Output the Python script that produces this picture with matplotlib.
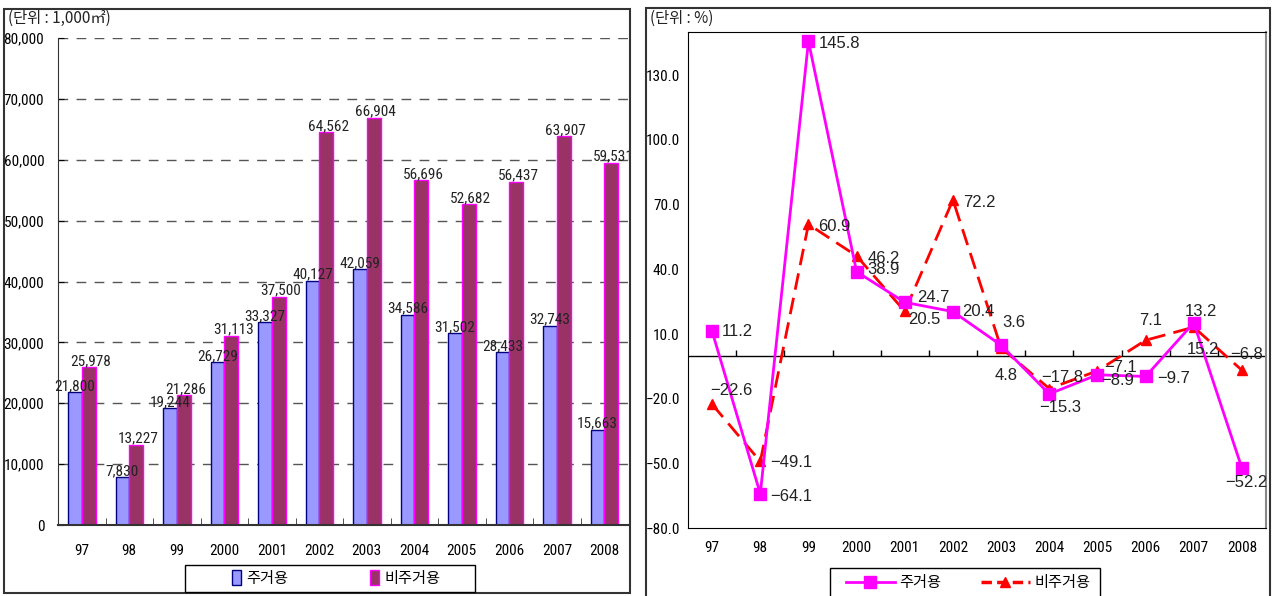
import numpy as np
import matplotlib
matplotlib.use('Agg')
import matplotlib.pyplot as plt
from matplotlib.patches import Rectangle
from matplotlib.lines import Line2D

plt.rcParams['font.family'] = ['Noto Sans CJK KR', 'DejaVu Sans']
plt.rcParams['axes.unicode_minus'] = True

# ---- 데이터 ----
years = ['97', '98', '99', '2000', '2001', '2002', '2003', '2004', '2005', '2006', '2007', '2008']

# 연면적 (단위: 1,000㎡)
area_res = [21800, 7830, 19244, 26729, 33327, 40127, 42059, 34586, 31502, 28433, 32743, 15663]
area_nonres = [25978, 13227, 21286, 31113, 37500, 64562, 66904, 56696, 52682, 56437, 63907, 59531]

# 증감률 (단위: %)
rate_res = [11.2, -64.1, 145.8, 38.9, 24.7, 20.4, 4.8, -17.8, -8.9, -9.7, 15.2, -52.2]
rate_nonres = [-22.6, -49.1, 60.9, 46.2, 20.5, 72.2, 3.6, -15.3, -7.1, 7.1, 13.2, -6.8]

# 라벨 위치 (픽셀 오프셋)
off_res = [(10, 0), (10, -3), (10, -2), (11, 2), (12, 5), (9, 0),
           (-6, -30), (-8, 16), (4, -6), (12, -2), (-7, -27), (-17, -14)]
off_nonres = [(-2, 14), (10, -1), (10, -2), (11, -3), (3, -8), (10, -3),
              (1, 25), (-10, -19), (7, 3), (-6, 20), (-9, 16), (-12, 16)]

narrow = ['Roboto Condensed', 'Noto Sans CJK KR']
helv = ['Liberation Sans', 'DejaVu Sans']

fig = plt.figure(figsize=(12.73, 5.96), dpi=100)

# 패널 테두리
fig.patches.append(Rectangle((0.0031, 0.005), 0.4918, 0.98, transform=fig.transFigure,
                             fill=False, edgecolor='#333333', lw=1.5))
fig.patches.append(Rectangle((0.5075, -0.01), 0.4905, 0.9966, transform=fig.transFigure,
                             fill=False, edgecolor='#333333', lw=1.5))

x = np.arange(len(years))

# ================= 왼쪽: 연면적 막대 =================
ax1 = fig.add_axes([0.0456, 0.1191, 0.4478, 0.817])
w = 0.29
b1 = ax1.bar(x - w / 2, area_res, w, color='#9999FF', edgecolor='#000080', lw=1, label='주거용')
b2 = ax1.bar(x + w / 2, area_nonres, w, color='#993366', edgecolor='#FF00FF', lw=1, label='비주거용')

for i in range(len(years)):
    ax1.annotate(f'{area_res[i]:,}', (x[i] - w / 2, area_res[i]), xytext=(0, -1),
                 textcoords='offset pixels', ha='center', va='bottom',
                 fontsize=11, family=narrow, color='#222222')
    ax1.annotate(f'{area_nonres[i]:,}', (x[i] + w / 2, area_nonres[i]), xytext=(2, -1),
                 textcoords='offset pixels', ha='center', va='bottom',
                 fontsize=11, family=narrow, color='#222222')

ax1.set_xlim(-0.5, len(years) - 0.5)
ax1.set_ylim(0, 80000)
ax1.set_yticks(range(0, 80001, 10000))
ax1.set_yticklabels([f'{v:,}' for v in range(0, 80001, 10000)], family=narrow, fontsize=11)
ax1.set_xticks(x)
ax1.set_xticklabels(years, family=narrow, fontsize=11)
ax1.tick_params(axis='x', length=0, pad=14)
ax1.set_xticks(np.arange(0.5, len(years) - 0.5), minor=True)
ax1.tick_params(axis='x', which='minor', length=5, direction='in', color='#333333')
ax1.tick_params(axis='y', length=4, direction='in', pad=10)
for v in range(10000, 80001, 10000):
    ax1.axhline(v, color='#555555', lw=1, ls=(0, (7, 6)), zorder=0)
ax1.spines['top'].set_visible(False)
ax1.spines['right'].set_visible(False)
ax1.spines['left'].set_color('#333333')
ax1.spines['bottom'].set_color('#333333')
ax1.spines['bottom'].set_linewidth(1.5)

fig.text(0.0065, 0.969, '(단위 : 1,000㎡)', fontsize=11, va='center', color='#222222')

# 범례 (테두리는 따로 그림)
fig.patches.append(Rectangle((185 / 1273, 1 - 592 / 596), 290 / 1273, 27 / 596,
                             transform=fig.transFigure, fill=True, facecolor='white',
                             edgecolor='black', lw=1, zorder=5))
fig.legend(handles=[b1, b2], loc='center', bbox_to_anchor=(336 / 1273, 1 - 578 / 596),
           ncol=2, frameon=False, handlelength=0.6, handleheight=1.2, handletextpad=0.3,
           columnspacing=5.4, fontsize=11, borderpad=0.2).set_zorder(6)

# ================= 오른쪽: 증감률 꺾은선 =================
ax2 = fig.add_axes([0.5405, 0.114, 0.454, 0.832])
ax2.plot(x, rate_res, color='#FF00FF', lw=2, marker='s', ms=8, label='주거용', zorder=4)
ax2.plot(x, rate_nonres, color='#FF0000', lw=2, ls=(0, (6, 3)), marker='^', ms=7,
         label='비주거용', zorder=3)

for i in range(len(years)):
    ax2.annotate(f'{rate_res[i]:.1f}'.replace('-', '\u2212'), (x[i], rate_res[i]),
                 xytext=off_res[i], textcoords='offset pixels', ha='left', va='center',
                 fontsize=12, family=helv, color='#222222', zorder=5)
    ax2.annotate(f'{rate_nonres[i]:.1f}'.replace('-', '\u2212'), (x[i], rate_nonres[i]),
                 xytext=off_nonres[i], textcoords='offset pixels', ha='left', va='center',
                 fontsize=12, family=helv, color='#222222', zorder=5)

ax2.set_xlim(-0.5, len(years) - 0.5)
ax2.set_ylim(-80, 150)
yt = np.arange(-80, 131, 30)
ax2.set_yticks(yt)
ax2.set_yticklabels([f'{v:.1f}'.replace('-', '\u2212') for v in yt], family=narrow, fontsize=11)
ax2.tick_params(axis='y', length=0, pad=6)
ax2.set_xticks(x)
ax2.set_xticklabels(years, family=narrow, fontsize=11)
ax2.tick_params(axis='x', length=0, pad=9)

# 0 기준선과 눈금
ax2.axhline(0, color='black', lw=1, zorder=2)
ax2.vlines(np.arange(0.5, len(years) - 0.5), 0, 2.4, color='black', lw=1, zorder=2)

for s in ['top', 'left', 'bottom']:
    ax2.spines[s].set_color('black')
ax2.spines['right'].set_color('#888888')
ax2.spines['right'].set_linewidth(1.5)

fig.text(0.5107, 0.969, '(단위 : %)', fontsize=11, va='center', color='#222222')

h_res = Line2D([], [], color='#FF00FF', lw=2, marker='s', ms=8)
h_non = Line2D([], [], color='#FF0000', lw=2.5, ls=(0, (3, 1.5)), marker='^', ms=7)
fig.patches.append(Rectangle((830 / 1273, -0.01), 270 / 1273, 1 - 568 / 596 + 0.01,
                             transform=fig.transFigure, fill=True, facecolor='white',
                             edgecolor='black', lw=1, zorder=5))
fig.legend(handles=[h_res, h_non], labels=['주거용', '비주거용'], loc='center',
           bbox_to_anchor=(968 / 1273, 1 - 583 / 596), ncol=2, frameon=False,
           handlelength=3.2, handletextpad=0.3, columnspacing=2.6,
           fontsize=11, borderpad=0.2).set_zorder(6)

fig.savefig('out.png', dpi=100)
